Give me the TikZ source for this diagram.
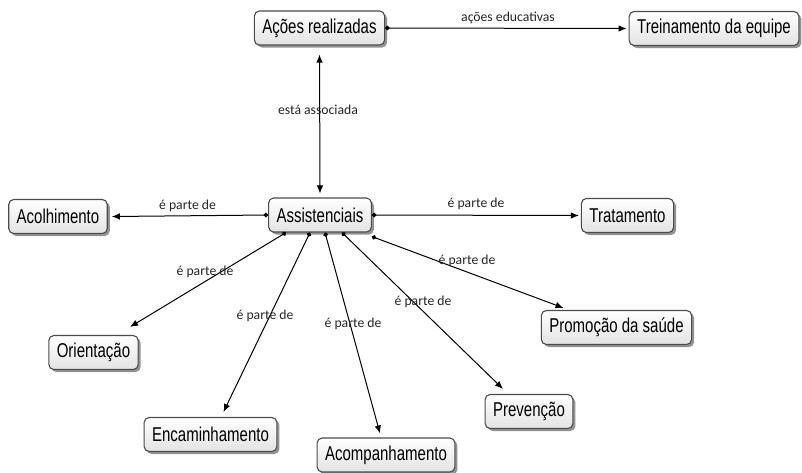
\documentclass[tikz,border=0pt]{standalone}
\usepackage{fontspec}
\setmainfont{Liberation Sans}[FakeStretch=0.75]
\newfontfamily\lblfont{Carlito}
\usetikzlibrary{arrows.meta,shadows,calc}
\begin{document}
\begin{tikzpicture}[x=1pt,y=-1pt,
  concept/.style={draw=black!70, line width=1.1pt, rounded corners=5pt,
    top color=white, bottom color=black!11,
    drop shadow={shadow xshift=2.5pt, shadow yshift=-2.5pt, fill=black!60, opacity=0.7},
    minimum height=34pt, inner xsep=8pt, font=\fontsize{20}{20}\selectfont, text=black},
  lbl/.style={font=\lblfont\fontsize{13.7}{14}\selectfont, text=black!85},
  link/.style={line width=1pt, {Circle[length=4.5pt]}-{Latex[length=8pt,width=6.5pt]}},
  twoway/.style={line width=1pt, {Latex[length=8pt,width=6.5pt]}-{Latex[length=8pt,width=6.5pt]}},
]
\fill[white] (0,0) rectangle (802,472);
\useasboundingbox (0,0) rectangle (802,472);

% concepts
\node[concept] (acoes)  at (319.5,28)  {Ações realizadas};
\node[concept] (trein)  at (714,28.5)  {Treinamento da equipe};
\node[concept] (acolh)  at (58,216.5)  {Acolhimento};
\node[concept] (assist) at (320,215)   {Assistenciais};
\node[concept] (trat)   at (627.5,215.5) {Tratamento};
\node[concept] (orient) at (93.5,352.5) {Orientação};
\node[concept] (encam)  at (210.5,434.5) {Encaminhamento};
\node[concept] (acomp)  at (386,455)   {Acompanhamento};
\node[concept] (prev)   at (529,411.5) {Prevenção};
\node[concept] (promo)  at (616.5,327.5) {Promoção da saúde};

% connectors
\draw[link] (acoes.east) -- ($(trein.west)+(-2,0)$);
\draw[twoway] ($(acoes.south)+(0,9)$) -- ($(assist.north)+(0,-4)$);
\draw[link] (assist.west) -- ($(acolh.east)+(4,0)$);
\draw[link] (assist.east) -- ($(trat.west)+(-2,0)$);
\draw[link] ($(assist.south)+(-34,0)$) -- ($(orient.north)+(36.5,-8)$);
\draw[link] ($(assist.south)+(-10,0)$) -- ($(encam.north)+(13,-5)$);
\draw[link] ($(assist.south)+(5,0)$)   -- ($(acomp.north)+(-6,-4)$);
\draw[link] ($(assist.south)+(22,0)$)  -- ($(prev.north)+(-26,-5)$);
\draw[link] ($(assist.south east)+(0,4)$) -- ($(promo.north)+(-53,-2)$);

% labels
\node[lbl] (l1) at (508,18)  {ações educativas};
\node[lbl] (l2) at (318,110) {está associada};
\node[lbl] (l3) at (187.5,206) {é parte de};
\node[lbl] (l4) at (476,204) {é parte de};
\node[lbl] (l5) at (205,272) {é parte de};
\node[lbl] (l6) at (265,316) {é parte de};
\node[lbl] (l7) at (353,324) {é parte de};
\node[lbl] (l8) at (423,302) {é parte de};
\node[lbl] (l9) at (467,261) {é parte de};
\end{tikzpicture}
\end{document}
